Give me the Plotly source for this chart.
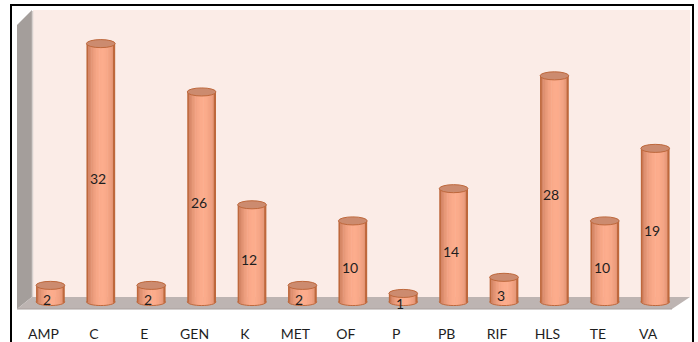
import math
import plotly.graph_objects as go

# Isolate counts per antibiotic class
categories = ["AMP", "C", "E", "GEN", "K", "MET", "OF", "P", "PB", "RIF", "HLS", "TE", "VA"]
counts = [2, 32, 2, 26, 12, 2, 10, 1, 14, 3, 28, 10, 19]

W, H = 698, 342
ML, MR, MT, MB = 17, 7, 10, 33
PW, PH = W - ML - MR, H - MT - MB

# axis ranges chosen so that one category step is ~50.4 px and one count ~8.06 px
X_RANGE = [-0.663, 12.71]
Y_RANGE = [-0.93, 36.17]
BAR_W = 0.57          # cylinder width in category units
RY = 0.5              # half height of the elliptical caps, in count units
DEPTH_SHIFT = 0.139   # labels sit on the front edge of the floor
N_STRIPS = 18

idx = list(range(len(categories)))


def px(xp):
    return (xp - ML) / PW


def py(yp):
    return (H - MB - yp) / PH


def mix(c1, c2, f):
    return "rgb(%d,%d,%d)" % tuple(round(a + (b - a) * f) for a, b in zip(c1, c2))


DARK = (196, 118, 86)
LIGHT = (252, 172, 140)
EDGE = (190, 104, 60)

fig = go.Figure()

# cylinder bodies: vertical strips shaded like a lit cylinder
for k in range(N_STRIPS):
    t0 = k / N_STRIPS
    tc = (k + 0.5) / N_STRIPS
    u = 2 * tc - 1
    s = math.sqrt(max(0.0, 1 - u * u))
    shade = max(0.0, math.cos(math.pi * (tc - 0.55) * 0.95)) ** 0.7
    color = mix(DARK, LIGHT, shade)
    if k == 0 or k == N_STRIPS - 1:
        color = mix(EDGE, EDGE, 0)
    base = [-RY * s for _ in counts]
    fig.add_trace(go.Bar(
        x=idx,
        y=[v - b for v, b in zip(counts, base)],
        base=base,
        width=BAR_W / N_STRIPS * 1.35,
        offset=-BAR_W / 2 + t0 * BAR_W - (0.0 if k < N_STRIPS - 1 else BAR_W / N_STRIPS * 0.35),
        marker=dict(color=color, line=dict(width=0)),
        hoverinfo="skip",
        showlegend=False,
    ))

shapes = []

# chart frame and 3D walls
shapes.append(dict(type="path", xref="paper", yref="paper", layer="below",
                   path="M %f,%f L %f,%f L %f,%f L %f,%f Z" % (
                       px(33), py(10), px(690), py(10), px(690), py(297), px(33), py(297)),
                   fillcolor="#FBECE7", line=dict(width=0)))
shapes.append(dict(type="path", xref="paper", yref="paper", layer="below",
                   path="M %f,%f L %f,%f L %f,%f L %f,%f Z" % (
                       px(17), py(25), px(32), py(10), px(32), py(297), px(17), py(309)),
                   fillcolor="#A49E9B", line=dict(width=0)))
shapes.append(dict(type="line", xref="paper", yref="paper", layer="below",
                   x0=px(32.5), x1=px(32.5), y0=py(11), y1=py(297),
                   line=dict(color="#D6D0CD", width=1.5)))
shapes.append(dict(type="path", xref="paper", yref="paper", layer="below",
                   path="M %f,%f L %f,%f L %f,%f L %f,%f Z" % (
                       px(17), py(309), px(32), py(297), px(690), py(297), px(672), py(309)),
                   fillcolor="#BDB4B2", line=dict(width=0)))
shapes.append(dict(type="line", xref="paper", yref="paper", layer="below",
                   x0=px(17), x1=px(672), y0=py(309), y1=py(309),
                   line=dict(color="#A8A09E", width=1)))

# caps: bottom outline arc and top ellipse of every cylinder
k43 = 4.0 / 3.0
for i, v in zip(idx, counts):
    x0, x1 = i - BAR_W / 2, i + BAR_W / 2
    shapes.append(dict(type="path", xref="x", yref="y", layer="above",
                       path="M %f,0 C %f,%f %f,%f %f,0" % (x0, x0, -k43 * RY, x1, -k43 * RY, x1),
                       line=dict(color="rgb(190,104,60)", width=1)))
    shapes.append(dict(type="circle", xref="x", yref="y", layer="above",
                       x0=x0, x1=x1, y0=v - RY, y1=v + RY,
                       fillcolor="#CC8B6F", line=dict(color="rgb(190,104,60)", width=1)))

# outer border of the chart
shapes.append(dict(type="rect", xref="paper", yref="paper", layer="above",
                   x0=px(11), x1=px(693), y0=py(360), y1=py(5),
                   line=dict(color="black", width=2), fillcolor="rgba(0,0,0,0)"))

annotations = []
for i, v in zip(idx, counts):
    annotations.append(dict(x=i, y=v / 2, xref="x", yref="y", text=str(v),
                            showarrow=False, xshift=-3, yshift=-6,
                            font=dict(family="Lato, Carlito, sans-serif", size=14, color="#1E1E1E")))

fig.update_layout(
    width=W, height=H,
    margin=dict(l=ML, r=MR, t=MT, b=MB),
    paper_bgcolor="white",
    plot_bgcolor="rgba(0,0,0,0)",
    barmode="overlay",
    shapes=shapes,
    annotations=annotations,
    xaxis=dict(range=X_RANGE, showgrid=False, zeroline=False, showline=False,
               automargin=False,
               tickvals=[i - DEPTH_SHIFT for i in idx], ticktext=categories,
               ticks="", ticklabelstandoff=15,
               tickfont=dict(family="Lato, Carlito, sans-serif", size=14, color="#1E1E1E")),
    yaxis=dict(range=Y_RANGE, showgrid=False, zeroline=False, showline=False,
               automargin=False, showticklabels=False, ticks=""),
)

fig.write_html("out.html")
